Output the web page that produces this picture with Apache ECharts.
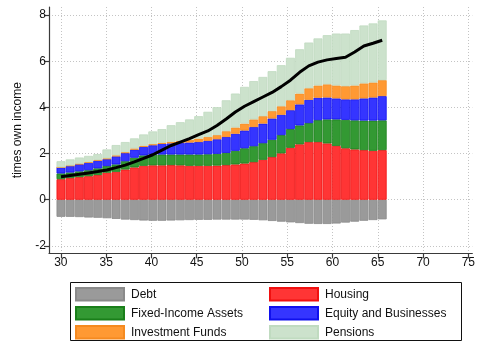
<!DOCTYPE html>
<html>
<head>
<meta charset="utf-8">
<script src="https://cdn.jsdelivr.net/npm/echarts@6/dist/echarts.min.js"></script>
<style>
  html, body { margin: 0; padding: 0; background: #fff; }
  #chart { width: 478px; height: 341px; }
</style>
</head>
<body>
<div id="chart"></div>
<script>
// Age of household head
const ages = [30, 31, 32, 33, 34, 35, 36, 37, 38, 39, 40, 41, 42, 43, 44, 45, 46, 47,
              48, 49, 50, 51, 52, 53, 54, 55, 56, 57, 58, 59, 60, 61, 62, 63, 64, 65];

// Balance-sheet components, in multiples of own income
const debt = [-0.74, -0.74, -0.75, -0.77, -0.78, -0.80, -0.83, -0.86, -0.88, -0.90, -0.91, -0.91,
              -0.90, -0.89, -0.88, -0.87, -0.87, -0.86, -0.86, -0.86, -0.86, -0.87, -0.89, -0.92,
              -0.95, -0.98, -1.01, -1.04, -1.05, -1.05, -1.03, -0.99, -0.95, -0.91, -0.88, -0.85];
const housing = [0.89, 0.94, 0.98, 1.02, 1.07, 1.17, 1.21, 1.31, 1.40, 1.47, 1.49, 1.49,
                 1.50, 1.49, 1.47, 1.47, 1.47, 1.48, 1.50, 1.53, 1.57, 1.63, 1.73, 1.85,
                 2.01, 2.25, 2.40, 2.50, 2.50, 2.44, 2.33, 2.23, 2.18, 2.15, 2.12, 2.15];
const fixedIncome = [0.25, 0.24, 0.25, 0.26, 0.29, 0.29, 0.32, 0.36, 0.42, 0.45, 0.46, 0.47,
                     0.46, 0.47, 0.49, 0.49, 0.50, 0.51, 0.53, 0.59, 0.66, 0.69, 0.72, 0.75,
                     0.79, 0.81, 0.82, 0.82, 0.95, 1.04, 1.15, 1.23, 1.26, 1.28, 1.31, 1.29];
const equity = [0.26, 0.29, 0.31, 0.32, 0.33, 0.30, 0.35, 0.35, 0.35, 0.37, 0.41, 0.46,
                0.48, 0.50, 0.52, 0.54, 0.58, 0.63, 0.69, 0.74, 0.77, 0.83, 0.85, 0.92,
                0.88, 0.82, 0.91, 1.01, 0.97, 0.95, 0.91, 0.89, 0.91, 0.96, 1.00, 1.05];
const funds = [0.00, 0.01, 0.02, 0.03, 0.03, 0.03, 0.04, 0.04, 0.05, 0.05, 0.05, 0.05,
               0.07, 0.09, 0.12, 0.15, 0.17, 0.18, 0.25, 0.27, 0.30, 0.33, 0.32, 0.32,
               0.37, 0.43, 0.47, 0.50, 0.53, 0.57, 0.56, 0.57, 0.60, 0.65, 0.65, 0.69];
const pensions = [0.27, 0.27, 0.27, 0.27, 0.26, 0.39, 0.45, 0.44, 0.44, 0.49, 0.55, 0.59,
                  0.72, 0.81, 0.88, 0.97, 1.09, 1.21, 1.34, 1.47, 1.59, 1.66, 1.70, 1.73,
                  1.78, 1.84, 1.92, 1.98, 2.04, 2.13, 2.25, 2.28, 2.40, 2.51, 2.56, 2.59];
// Net wealth line
const netWealth = [1.00, 1.05, 1.10, 1.16, 1.22, 1.29, 1.39, 1.50, 1.64, 1.79, 1.95, 2.15,
                   2.35, 2.50, 2.65, 2.82, 2.98, 3.22, 3.50, 3.80, 4.05, 4.25, 4.45, 4.65,
                   4.90, 5.18, 5.52, 5.80, 5.96, 6.06, 6.12, 6.17, 6.40, 6.66, 6.78, 6.91];

// Axis ticks
const xTicks = [30, 35, 40, 45, 50, 55, 60, 65, 70, 75];
const yTicks = [-2, 0, 2, 4, 6, 8];

const FONT = '"Liberation Sans", Arial, sans-serif';
const Y_MIN = -2.32, Y_MAX = 8.35;
const PLOT = { top: 7, bottom: 87.7 };

function barSeries(name, values, fill, border) {
  return {
    name: name,
    type: 'bar',
    xAxisIndex: 1,
    yAxisIndex: 1,
    stack: 'wealth',
    barCategoryGap: '3%',
    data: values,
    itemStyle: { color: fill, borderColor: border, borderWidth: 0.8 },
    emphasis: { disabled: true }
  };
}

function legendColumn(names, left) {
  return {
    type: 'plain',
    data: names,
    orient: 'vertical',
    left: left, top: 287,
    width: 190, height: 60,
    padding: 0,
    itemWidth: 48, itemHeight: 12.5, itemGap: 4.5, icon: 'rect',
    textStyle: { fontSize: 12, lineHeight: 12.5, color: '#111', fontFamily: FONT, padding: [0, 0, 0, 2] },
    selectedMode: false
  };
}

const chart = echarts.init(document.getElementById('chart'), null, { renderer: 'canvas' });

const gridDot = { type: [1, 2], color: '#c4c4c4', width: 1 };
const axisDark = { color: '#3a3a3a', width: 1.2 };

chart.setOption({
  animation: false,
  textStyle: { fontFamily: FONT },
  grid: [
    { left: 49, right: 0, top: PLOT.top, bottom: PLOT.bottom, containLabel: false },
    { left: 56.4, width: 330.4, top: PLOT.top, bottom: PLOT.bottom, containLabel: false }
  ],
  xAxis: [
    {
      gridIndex: 0, type: 'value', min: 28.69, max: 75.44,
      axisLine: { show: true, onZero: false, lineStyle: axisDark },
      axisTick: { show: true, length: 5, customValues: xTicks, lineStyle: axisDark },
      axisLabel: { customValues: xTicks, fontSize: 12, color: '#111', margin: 3, fontFamily: FONT },
      splitLine: { show: true, lineStyle: gridDot }
    },
    { gridIndex: 1, type: 'category', data: ages.map(String), show: false }
  ],
  yAxis: [
    {
      gridIndex: 0, type: 'value', min: Y_MIN, max: Y_MAX,
      axisLine: { show: true, onZero: false, lineStyle: axisDark },
      axisTick: { show: true, length: 5, customValues: yTicks, lineStyle: axisDark },
      axisLabel: { customValues: yTicks, fontSize: 12, color: '#111', margin: 3, fontFamily: FONT },
      splitLine: { show: true, lineStyle: gridDot },
      name: 'times own income',
      nameLocation: 'middle',
      nameGap: 25,
      nameTextStyle: { fontSize: 12, color: '#111', fontFamily: FONT }
    },
    { gridIndex: 1, type: 'value', min: Y_MIN, max: Y_MAX, show: false, splitLine: { show: false } }
  ],
  legend: [
    legendColumn(['Debt', 'Fixed-Income Assets', 'Investment Funds'], 75),
    legendColumn(['Housing', 'Equity and Businesses', 'Pensions'], 269)
  ],
  graphic: [
    {
      type: 'rect', silent: true,
      shape: { x: 70.5, y: 282.5, width: 391, height: 58 },
      style: { fill: 'none', stroke: '#111', lineWidth: 1 }
    }
  ],
  series: [
    barSeries('Debt', debt, '#9a9a9a', '#8a8a8a'),
    barSeries('Housing', housing, '#ff3535', '#f01010'),
    barSeries('Fixed-Income Assets', fixedIncome, '#339933', '#1a7f1a'),
    barSeries('Equity and Businesses', equity, '#3535ff', '#1010ee'),
    barSeries('Investment Funds', funds, '#ff9933', '#f58a20'),
    barSeries('Pensions', pensions, '#cce2cc', '#c0dbc0'),
    {
      name: 'Net wealth',
      type: 'line',
      xAxisIndex: 1,
      yAxisIndex: 1,
      data: netWealth,
      showSymbol: false,
      symbol: 'none',
      lineStyle: { color: '#000', width: 3 },
      z: 5,
      emphasis: { disabled: true }
    }
  ]
});
</script>
</body>
</html>
